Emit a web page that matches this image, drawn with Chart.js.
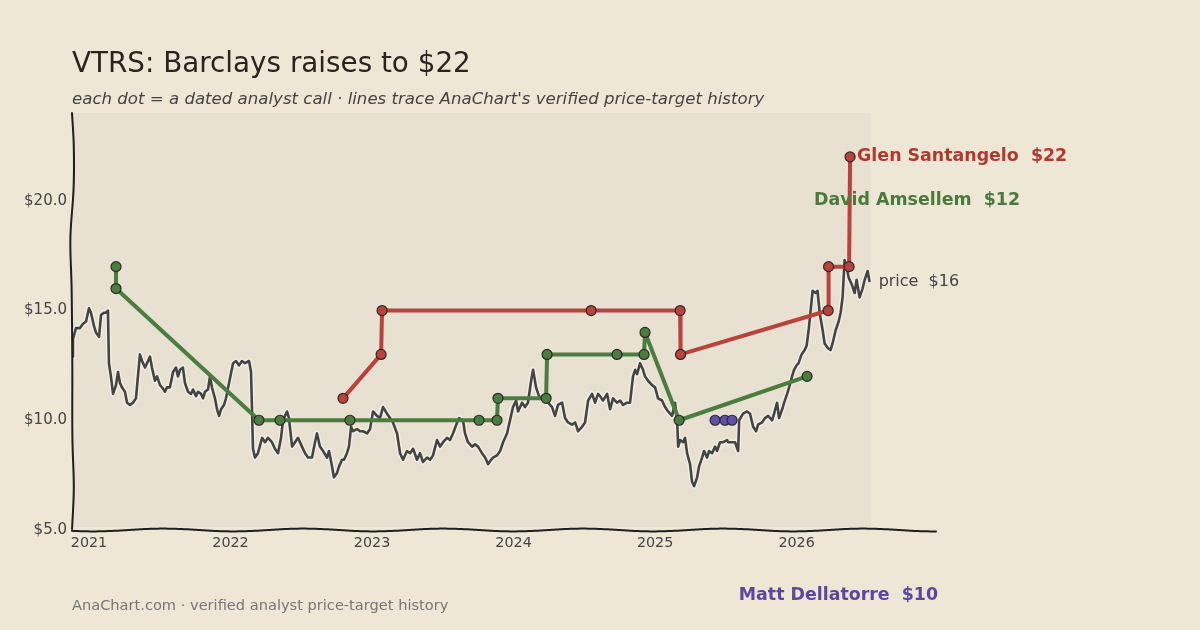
<!DOCTYPE html>
<html>
<head>
<meta charset="utf-8">
<script src="https://cdn.jsdelivr.net/npm/chart.js@4/dist/chart.umd.min.js"></script>
<style>
  html,body{margin:0;padding:0;background:#efe7d6;}
  #wrap{position:relative;width:1200px;height:630px;overflow:hidden;font-family:"DejaVu Sans",sans-serif;}
  canvas{position:absolute;left:0;top:0;}
  .t{position:absolute;white-space:nowrap;line-height:1;}
  #title{left:72px;top:49px;font-size:27.8px;color:#2a2420;}
  #sub{left:72px;top:91px;font-size:16.6px;font-style:italic;color:#444;}
  #foot{left:72px;top:598px;font-size:14.6px;color:#777;}
</style>
</head>
<body>
<div id="wrap">
  <canvas id="c" width="1200" height="630"></canvas>
  <div class="t" id="title">VTRS: Barclays raises to $22</div>
  <div class="t" id="sub">each dot = a dated analyst call · lines trace AnaChart's verified price-target history</div>
  <div class="t" id="foot">AnaChart.com · verified analyst price-target history</div>
</div>
<script>
// ---- data (decimal years, USD) ----
const priceT = [2020.880,2020.887,2020.908,2020.936,2020.958,2020.979,2021.000,2021.014,2021.035,2021.049,2021.071,2021.085,2021.106,2021.120,2021.134,2021.141,2021.155,2021.170,2021.191,2021.205,2021.219,2021.233,2021.254,2021.269,2021.290,2021.311,2021.332,2021.360,2021.375,2021.396,2021.410,2021.431,2021.445,2021.466,2021.481,2021.502,2021.516,2021.537,2021.551,2021.572,2021.594,2021.615,2021.629,2021.643,2021.664,2021.678,2021.700,2021.721,2021.735,2021.756,2021.770,2021.792,2021.806,2021.820,2021.841,2021.855,2021.869,2021.890,2021.905,2021.919,2021.933,2021.954,2021.968,2021.996,2022.018,2022.039,2022.060,2022.081,2022.102,2022.131,2022.145,2022.159,2022.173,2022.194,2022.223,2022.244,2022.265,2022.293,2022.314,2022.336,2022.357,2022.371,2022.399,2022.413,2022.435,2022.456,2022.477,2022.505,2022.527,2022.548,2022.576,2022.597,2022.611,2022.632,2022.654,2022.682,2022.696,2022.717,2022.731,2022.753,2022.767,2022.788,2022.802,2022.823,2022.837,2022.852,2022.866,2022.894,2022.915,2022.936,2022.965,2022.986,2023.007,2023.035,2023.056,2023.078,2023.106,2023.127,2023.148,2023.177,2023.198,2023.219,2023.247,2023.269,2023.290,2023.318,2023.339,2023.360,2023.389,2023.410,2023.431,2023.459,2023.481,2023.502,2023.530,2023.551,2023.572,2023.601,2023.615,2023.643,2023.657,2023.678,2023.707,2023.728,2023.749,2023.777,2023.799,2023.820,2023.841,2023.855,2023.883,2023.905,2023.926,2023.954,2023.975,2023.996,2024.018,2024.032,2024.060,2024.081,2024.102,2024.124,2024.138,2024.159,2024.180,2024.201,2024.216,2024.244,2024.272,2024.293,2024.314,2024.343,2024.364,2024.385,2024.413,2024.435,2024.456,2024.484,2024.505,2024.527,2024.555,2024.576,2024.597,2024.611,2024.632,2024.661,2024.682,2024.703,2024.731,2024.753,2024.774,2024.802,2024.823,2024.844,2024.859,2024.873,2024.894,2024.915,2024.929,2024.950,2024.979,2025.000,2025.021,2025.049,2025.071,2025.092,2025.120,2025.141,2025.155,2025.163,2025.177,2025.198,2025.212,2025.226,2025.247,2025.261,2025.276,2025.297,2025.311,2025.332,2025.346,2025.367,2025.382,2025.403,2025.424,2025.438,2025.459,2025.481,2025.509,2025.516,2025.544,2025.565,2025.587,2025.594,2025.622,2025.650,2025.671,2025.693,2025.714,2025.728,2025.756,2025.777,2025.799,2025.827,2025.841,2025.862,2025.876,2025.898,2025.912,2025.933,2025.947,2025.968,2025.982,2026.000,2026.014,2026.035,2026.057,2026.071,2026.085,2026.099,2026.113,2026.134,2026.148,2026.163,2026.184,2026.198,2026.219,2026.240,2026.254,2026.276,2026.297,2026.311,2026.325,2026.339,2026.353,2026.368,2026.389,2026.410,2026.424,2026.445,2026.466,2026.481,2026.502,2026.516];
const priceV = [12.9,13.7,14.2,14.2,14.4,14.5,15.1,14.9,14.3,14.0,13.8,14.8,14.9,14.9,15.0,12.6,12.0,11.2,11.6,12.2,11.7,11.5,11.3,10.8,10.7,10.8,11.0,13.0,12.7,12.4,12.6,12.9,12.4,11.8,12.0,11.6,11.5,11.3,11.5,11.5,12.2,12.4,12.0,12.3,12.4,11.7,11.3,11.2,11.4,11.1,11.3,11.2,11.0,11.3,11.4,12.0,11.5,11.0,10.5,10.2,10.5,10.7,11.0,11.9,12.6,12.7,12.5,12.7,12.6,12.7,12.2,8.7,8.3,8.5,9.2,9.0,9.2,9.0,8.7,8.5,9.2,10.0,10.4,10.1,8.8,9.0,9.2,8.8,8.5,8.3,8.3,9.0,9.4,8.8,8.6,8.3,8.6,7.9,7.4,7.6,7.9,8.2,8.2,8.5,8.8,9.7,9.5,9.6,9.5,9.5,9.4,9.6,10.4,10.2,10.1,10.6,10.3,10.1,9.9,9.4,8.5,8.2,8.6,8.5,8.7,8.2,8.5,8.1,8.3,8.2,8.4,9.1,8.8,9.0,9.2,9.1,9.4,9.9,10.1,10.0,9.4,9.0,8.8,8.9,8.8,8.5,8.3,8.0,8.2,8.3,8.4,8.6,9.0,9.4,10.0,10.6,10.9,10.4,10.8,10.6,10.8,11.8,12.3,11.5,11.1,11.0,11.0,10.8,10.6,10.2,10.7,10.8,10.1,9.9,9.8,9.9,9.5,9.7,9.9,10.9,11.2,10.8,11.2,11.1,10.9,11.2,10.5,11.0,10.8,10.9,10.7,10.8,10.8,12.0,12.3,12.1,12.6,12.3,12.0,11.8,11.6,11.5,11.0,10.9,10.6,10.4,10.2,10.8,10.1,8.8,9.1,9.0,9.2,8.5,8.0,7.2,7.0,7.4,7.9,8.3,8.6,8.3,8.6,8.5,8.8,8.6,9.0,9.0,9.1,9.0,9.0,9.0,8.6,10.0,10.3,10.4,10.3,9.7,9.5,9.8,9.9,10.1,10.2,10.0,10.3,10.8,10.1,10.5,10.8,11.2,11.5,12.0,12.3,12.5,12.6,13.0,13.2,13.4,14.1,15.0,15.9,15.8,15.9,14.9,14.1,13.5,13.3,13.2,13.5,14.1,14.5,14.9,15.6,17.3,17.0,16.5,16.2,15.8,16.4,15.6,16.0,16.4,16.8,16.3];

const davidT = [2021.191,2021.191,2022.201,2022.350,2022.844,2023.756,2023.883,2023.890,2024.230,2024.237,2024.731,2024.922,2024.929,2025.170,2026.074];
const davidV = [17,16,10,10,10,10,10,11,11,13,13,13,14,10,12];

const glenT = [2022.795,2023.064,2023.071,2024.548,2025.177,2025.180,2026.223,2026.226,2026.371,2026.378];
const glenV = [11,13,15,15,15,13,15,17,17,22];

const mattT = [2025.424,2025.494,2025.544];
const mattV = [10,10,10];

const yTickVals = [5,10,15,20];
const xTickVals = [2021,2022,2023,2024,2025,2026];

const names = {david:'David Amsellem', glen:'Glen Santangelo', matt:'Matt Dellatorre'};
const colors = {price:'#444444', david:'#4a7d3e', glen:'#b9433a', matt:'#5e4fa8',
                davidText:'#4a7a3c', glenText:'#b03a30', mattText:'#5a48a0'};

const pts = (T,V) => T.map((t,i)=>({x:t,y:V[i]}));

const facePlugin = {
  id:'face',
  beforeDatasetsDraw(chart){
    const {ctx, chartArea:a, scales:{x}} = chart;
    ctx.save();
    ctx.fillStyle = '#e8e0d1';
    const xr = x.getPixelForValue(priceT[priceT.length-1]) + 1;
    ctx.fillRect(a.left, a.top, xr - a.left, a.bottom - a.top - 3);
    ctx.restore();
  }
};

// hand-drawn look of the left spine (decorative offsets: fraction of axis height -> px)
const leftWiggle = [[0,0],[0.08,1.8],[0.18,1.6],[0.3,-1.6],[0.42,-0.4],[0.6,0.3],[0.78,0.4],[0.9,1.8],[1,0]];

function wiggleAt(k){
  const n = leftWiggle.length;
  let j = 0; while (j < n-2 && leftWiggle[j+1][0] < k) j++;
  const p = i => leftWiggle[Math.max(0, Math.min(n-1, i))];
  const [k0,d0] = p(j), [k1,d1] = p(j+1);
  const m0 = (p(j+1)[1] - p(j-1)[1]) / ((p(j+1)[0] - p(j-1)[0]) || 1);
  const m1 = (p(j+2)[1] - p(j)[1]) / ((p(j+2)[0] - p(j)[0]) || 1);
  const h = k1 - k0, t = (k - k0)/h, t2 = t*t, t3 = t2*t;
  return (2*t3-3*t2+1)*d0 + (t3-2*t2+t)*h*m0 + (-2*t3+3*t2)*d1 + (t3-t2)*h*m1;
}

const spinePlugin = {
  id:'spines',
  afterDatasetsDraw(chart){
    const {ctx, chartArea:a} = chart;
    ctx.save();
    ctx.strokeStyle = '#1f1f1f';
    ctx.lineWidth = 2;
    ctx.lineJoin = 'round';
    ctx.lineCap = 'round';
    ctx.beginPath();
    const H = a.bottom - a.top;
    for (let y = a.top; y <= a.bottom; y += 2) {
      const dx = wiggleAt((y - a.top) / H);
      if (y === a.top) ctx.moveTo(a.left + dx, y); else ctx.lineTo(a.left + dx, y);
    }
    ctx.stroke();
    ctx.beginPath();
    for (let x = a.left; x <= a.right; x += 2) {
      const dy = 1.4*Math.sin((x - a.left)/140*Math.PI*2 + 0.6);
      if (x === a.left) ctx.moveTo(x, a.bottom + dy); else ctx.lineTo(x, a.bottom + dy);
    }
    ctx.stroke();
    ctx.restore();
  }
};

const labelPlugin = {
  id:'endLabels',
  afterDraw(chart){
    const {ctx, chartArea:a, scales:{x, y}} = chart;
    ctx.save();
    ctx.textBaseline = 'middle';
    ctx.textAlign = 'left';
    const gi = glenT.length-1, di = davidT.length-1, pi = priceT.length-1, mi = mattT.length-1;
    ctx.font = 'bold 17.4px "DejaVu Sans"';
    ctx.fillStyle = colors.glenText;
    ctx.fillText(names.glen + '  $' + Math.round(glenV[gi]), x.getPixelForValue(glenT[gi]) + 7, y.getPixelForValue(glenV[gi]));
    ctx.fillStyle = colors.davidText;
    ctx.fillText(names.david + '  $' + Math.round(davidV[di]), x.getPixelForValue(davidT[di]) + 7, y.getPixelForValue(20));
    ctx.font = '16px "DejaVu Sans"';
    ctx.fillStyle = '#444';
    ctx.fillText('price  $' + Math.round(priceV[pi]), x.getPixelForValue(priceT[pi]) + 9, y.getPixelForValue(priceV[pi]));
    ctx.font = 'bold 17.4px "DejaVu Sans"';
    ctx.fillStyle = colors.mattText;
    ctx.textAlign = 'right';
    ctx.fillText(names.matt + '  $' + Math.round(mattV[mi]), a.right + 2, 595);
    ctx.restore();
  }
};

const analyst = (label, T, V, col, order) => ({
  label, data: pts(T,V), order,
  borderColor: col, borderWidth: 4, borderJoinStyle:'round', borderCapStyle:'round',
  pointRadius: 5, pointBackgroundColor: col, pointBorderColor:'#2a2a2a', pointBorderWidth: 1.2,
  pointHoverRadius: 5, tension: 0
});

new Chart(document.getElementById('c'), {
  type:'line',
  data:{ datasets:[
    { label:'halo', data: pts(priceT,priceV), order: 20, borderColor:'rgba(250,247,240,0.6)', borderWidth:5.5, pointRadius:0, tension:0, borderJoinStyle:'round' },
    { label:'price', data: pts(priceT,priceV), order: 10, borderColor: colors.price, borderWidth:2.6, pointRadius:0, tension:0, borderJoinStyle:'round' },
    analyst(names.david, davidT, davidV, colors.david, 3),
    analyst(names.glen, glenT, glenV, colors.glen, 2),
    analyst(names.matt, mattT, mattV, colors.matt, 1)
  ]},
  options:{
    responsive:false, animation:false, devicePixelRatio:1,
    layout:{ padding:{ top:113, right:264, left:0, bottom:0 } },
    plugins:{ legend:{display:false}, tooltip:{enabled:false}, title:{display:false} },
    scales:{
      x:{ type:'linear', min:2020.88, max:2026.985,
          grid:{display:false, drawTicks:false}, border:{display:false},
          afterBuildTicks: s => { s.ticks = xTickVals.map(v=>({value:v})); },
          afterFit: s => { s.height = 100; },
          ticks:{ padding:5, color:'#444', font:{family:'DejaVu Sans', size:14.3}, callback: v => String(v), maxRotation:0 } },
      y:{ min:5, max:24,
          grid:{display:false, drawTicks:false}, border:{display:false},
          afterBuildTicks: s => { s.ticks = yTickVals.map(v=>({value:v})); },
          afterFit: s => { s.width = 72; },
          ticks:{ padding:5, color:'#444', font:{family:'DejaVu Sans', size:15}, callback: v => '$' + Number(v).toFixed(1) } }
    }
  },
  plugins:[facePlugin, spinePlugin, labelPlugin]
});
</script>
</body>
</html>
